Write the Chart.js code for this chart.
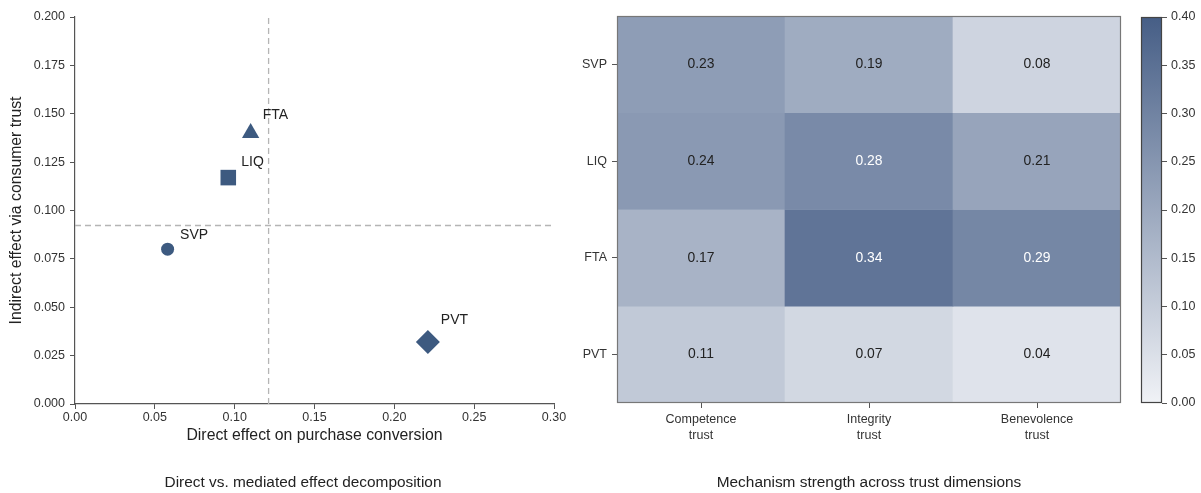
<!DOCTYPE html>
<html>
<head>
<meta charset="utf-8">
<script src="https://cdn.jsdelivr.net/npm/chart.js@4.4.1/dist/chart.umd.min.js"></script>
<style>
  html, body { margin: 0; padding: 0; background: #fff; }
  #wrap { position: relative; width: 1201px; height: 493px; overflow: hidden;
          font-family: "Liberation Sans", Arial, sans-serif; }
  #wrap canvas { position: absolute; top: 0; }
  .cap { position: absolute; top: 473px; font-size: 15.4px; line-height: 18px; color: #222;
         white-space: nowrap; transform: translateX(-50%); }
</style>
</head>
<body>
<div id="wrap">
  <canvas id="scatter" width="600" height="493" style="left:0px"></canvas>
  <canvas id="heat" width="575" height="493" style="left:560px"></canvas>
  <canvas id="cbar" width="71" height="493" style="left:1130px"></canvas>
  <div class="cap" style="left:303px">Direct vs. mediated effect decomposition</div>
  <div class="cap" style="left:869px">Mechanism strength across trust dimensions</div>
</div>
<script>
// ---- data ----
const mechanisms = ['SVP', 'LIQ', 'FTA', 'PVT'];
const directEffect = [0.058, 0.096, 0.110, 0.221];
const indirectEffect = [0.080, 0.117, 0.140, 0.032];

const trustDims = [['Competence', 'trust'], ['Integrity', 'trust'], ['Benevolence', 'trust']];
const strengthSVP = [0.23, 0.19, 0.08];
const strengthLIQ = [0.24, 0.28, 0.21];
const strengthFTA = [0.17, 0.34, 0.29];
const strengthPVT = [0.11, 0.07, 0.04];

const xTicks = [0, 0.05, 0.10, 0.15, 0.20, 0.25, 0.30];
const yTicks = [0, 0.025, 0.05, 0.075, 0.10, 0.125, 0.15, 0.175, 0.20];
const cbarTicks = [0, 0.05, 0.10, 0.15, 0.20, 0.25, 0.30, 0.35, 0.40];

// ---- styling ----
const FONT = "'Liberation Sans', Arial, sans-serif";
Chart.defaults.font.family = FONT;
Chart.defaults.color = '#333';
const NAVY = '#3d5a80';
const pointShapes = ['circle', 'rect', 'triangle', 'rectRot'];
const pointSizes = [6.5, 11, 10, 12];
const labelShift = [[12.5, -10], [13, -12], [12, -14], [13, -18]];
const CMAP_LO = [240, 242, 246];
const CMAP_HI = [70, 94, 134];
const V_MAX = 0.40;

// linear light-to-navy colour ramp
function cmap(v) {
  const t = Math.max(0, Math.min(1, v / V_MAX));
  const c = CMAP_LO.map((lo, k) => Math.round(lo + (CMAP_HI[k] - lo) * t));
  return `rgb(${c[0]},${c[1]},${c[2]})`;
}
const mean = arr => arr.reduce((a, b) => a + b, 0) / arr.length;
const fixTicks = vals => scale => { scale.ticks = vals.map(v => ({ value: v })); };

// ---- left: direct vs. indirect scatter ----
const meanDirect = mean(directEffect);
const meanIndirect = mean(indirectEffect);

const pointLabels = {
  id: 'pointLabels',
  afterDatasetsDraw(chart) {
    const { ctx } = chart;
    const meta = chart.getDatasetMeta(0);
    ctx.save();
    ctx.font = `14px ${FONT}`;
    ctx.fillStyle = '#222';
    ctx.textAlign = 'left';
    ctx.textBaseline = 'alphabetic';
    meta.data.forEach((el, i) => {
      ctx.fillText(mechanisms[i], el.x + labelShift[i][0], el.y + labelShift[i][1]);
    });
    ctx.restore();
  }
};

const refLine = { type: 'line', borderColor: '#b5b5b5', borderWidth: 1.3, borderDash: [6, 4],
                  pointRadius: 0, fill: false, order: 2 };

new Chart(document.getElementById('scatter'), {
  type: 'scatter',
  data: {
    datasets: [
      {
        data: directEffect.map((x, i) => ({ x, y: indirectEffect[i] })),
        pointStyle: pointShapes,
        pointRadius: pointSizes,
        backgroundColor: NAVY,
        borderColor: NAVY,
        borderWidth: 0,
        order: 0
      },
      Object.assign({ data: [{ x: meanDirect, y: 0 }, { x: meanDirect, y: 0.2 }] }, refLine),
      Object.assign({ data: [{ x: 0, y: meanIndirect }, { x: 0.3, y: meanIndirect }] }, refLine)
    ]
  },
  options: {
    responsive: false, animation: false, events: [],
    layout: { padding: { left: 0, top: 17, right: 46, bottom: 47.5 } },
    plugins: { legend: { display: false }, tooltip: { enabled: false } },
    scales: {
      x: {
        type: 'linear', min: 0, max: 0.3,
        afterBuildTicks: fixTicks(xTicks),
        afterFit(s) { s.height = 41.5; },
        ticks: { callback: v => v.toFixed(2), font: { size: 12.5 }, color: '#333', padding: 1 },
        grid: { drawOnChartArea: false, tickLength: 5, color: '#555', lineWidth: 1 },
        border: { display: true, color: '#555', width: 1.2 },
        title: { display: true, text: 'Direct effect on purchase conversion',
                 font: { size: 15.8 }, color: '#222', padding: { top: 0, bottom: 0 } }
      },
      y: {
        type: 'linear', min: 0, max: 0.2,
        afterBuildTicks: fixTicks(yTicks),
        afterFit(s) { s.width = 75; },
        ticks: { callback: v => v.toFixed(3), font: { size: 12.5 }, color: '#333', padding: 5 },
        grid: { drawOnChartArea: false, tickLength: 5, color: '#555', lineWidth: 1 },
        border: { display: true, color: '#555', width: 1.2 },
        title: { display: true, text: 'Indirect effect via consumer trust',
                 font: { size: 15.8 }, color: '#222', padding: { top: 7, bottom: 0 } }
      }
    }
  },
  plugins: [pointLabels]
});

// ---- right: mechanism x trust-dimension heatmap ----
const strengthRows = [strengthSVP, strengthLIQ, strengthFTA, strengthPVT];

const frame = color => ({
  id: 'frame',
  afterDraw(chart) {
    const { ctx, chartArea: a } = chart;
    ctx.save();
    ctx.strokeStyle = color;
    ctx.lineWidth = 1.2;
    ctx.strokeRect(Math.round(a.left) + 0.5, Math.round(a.top) + 0.5,
                   Math.round(a.right - a.left) - 1, Math.round(a.bottom - a.top) - 1);
    ctx.restore();
  }
});

const cellLabels = {
  id: 'cellLabels',
  afterDatasetsDraw(chart) {
    const { ctx } = chart;
    ctx.save();
    ctx.font = `13.9px ${FONT}`;
    ctx.textAlign = 'center';
    ctx.textBaseline = 'middle';
    strengthRows.forEach((vals, r) => {
      chart.getDatasetMeta(r).data.forEach((el, c) => {
        const p = el.getCenterPoint();
        ctx.fillStyle = vals[c] > 0.6 * V_MAX ? '#ffffff' : '#222222';
        ctx.fillText(vals[c].toFixed(2), p.x, p.y);
      });
    });
    ctx.restore();
  }
};

new Chart(document.getElementById('heat'), {
  type: 'bar',
  data: {
    labels: trustDims,
    datasets: strengthRows.map((vals, r) => ({
      label: mechanisms[r],
      data: vals.map(() => [r, r + 1]),
      backgroundColor: vals.map(cmap),
      grouped: false,
      barPercentage: 1,
      categoryPercentage: 1,
      borderWidth: 0
    }))
  },
  options: {
    responsive: false, animation: false, events: [],
    layout: { padding: { left: 0, top: 16, right: 14, bottom: 30 } },
    plugins: { legend: { display: false }, tooltip: { enabled: false } },
    scales: {
      x: {
        afterFit(s) { s.height = 60; },
        ticks: { font: { size: 12.5, lineHeight: 1.25 }, color: '#333', padding: 4 },
        grid: { offset: false, drawOnChartArea: false, tickLength: 5, color: '#555' },
        border: { display: false }
      },
      y: {
        type: 'linear', min: 0, max: 4, reverse: true,
        afterBuildTicks(s) { s.ticks = mechanisms.map((_, i) => ({ value: i + 0.5 })); },
        afterFit(s) { s.width = 57; },
        ticks: { callback: (v, i) => mechanisms[i], font: { size: 12.5 }, color: '#333', padding: 5 },
        grid: { drawOnChartArea: false, tickLength: 5, color: '#555' },
        border: { display: false }
      }
    }
  },
  plugins: [cellLabels, frame('#777')]
});

// ---- colorbar ----
new Chart(document.getElementById('cbar'), {
  type: 'bar',
  data: {
    labels: [''],
    datasets: [{
      data: [[0, V_MAX]],
      backgroundColor(c) {
        const { ctx, chartArea } = c.chart;
        if (!chartArea) return cmap(V_MAX / 2);
        const g = ctx.createLinearGradient(0, chartArea.bottom, 0, chartArea.top);
        g.addColorStop(0, cmap(0));
        g.addColorStop(1, cmap(V_MAX));
        return g;
      },
      barPercentage: 1,
      categoryPercentage: 1,
      borderWidth: 0
    }]
  },
  options: {
    responsive: false, animation: false, events: [],
    layout: { padding: { left: 11, top: 17, right: 0, bottom: 90 } },
    plugins: { legend: { display: false }, tooltip: { enabled: false } },
    scales: {
      x: { display: false },
      y: {
        position: 'right', min: 0, max: V_MAX,
        afterBuildTicks: fixTicks(cbarTicks),
        afterFit(s) { s.width = 39; },
        ticks: { callback: v => v.toFixed(2), font: { size: 12.5 }, color: '#333', padding: 4 },
        grid: { drawOnChartArea: false, tickLength: 5, color: '#555' },
        border: { display: false }
      }
    }
  },
  plugins: [frame('#444')]
});
</script>
</body>
</html>
